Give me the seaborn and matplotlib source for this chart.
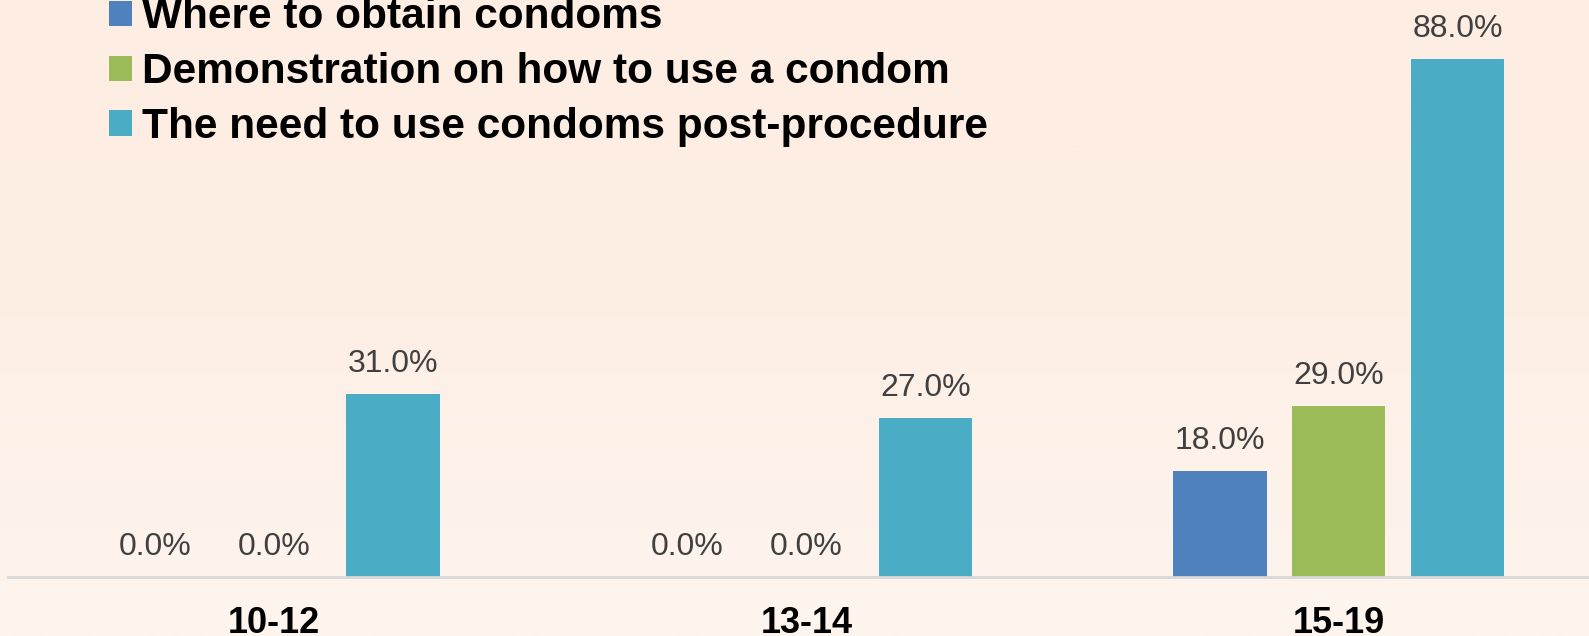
import numpy as np
import pandas as pd
import matplotlib.pyplot as plt
from matplotlib.colors import LinearSegmentedColormap
import seaborn as sns

# Data
age_groups = ["10-12", "13-14", "15-19"]
topics = ["Where to obtain condoms",
          "Demonstration on how to use a condom",
          "The need to use condoms post-procedure"]
where_to_obtain = [0.0, 0.0, 18.0]
demonstration = [0.0, 0.0, 29.0]
need_post_procedure = [31.0, 27.0, 88.0]
colors = ["#4F81BD", "#9BBB59", "#4BACC6"]

df = pd.DataFrame({
    "age": age_groups * 3,
    "topic": [topics[0]] * 3 + [topics[1]] * 3 + [topics[2]] * 3,
    "pct": where_to_obtain + demonstration + need_post_procedure,
})

sns.set_theme(style="white")
plt.rcParams["font.family"] = ["Liberation Sans", "DejaVu Sans"]

bg = "#FDEEE3"
fig = plt.figure(figsize=(15.89, 6.36), dpi=100, facecolor=bg)

# soft vertical gradient behind everything
bg_ax = fig.add_axes([0, 0, 1, 1], zorder=-10)
grad = LinearSegmentedColormap.from_list("bg", ["#FEF5EF", "#FDEFE5", "#FDEDE2"])
bg_ax.imshow(np.linspace(0, 1, 256).reshape(-1, 1), aspect="auto", cmap=grad,
             origin="lower", extent=[0, 1, 0, 1])
bg_ax.axis("off")

ax = fig.add_axes([8 / 1589, 59 / 636, 1 - 8 / 1589, 1 - 59 / 636])
ax.patch.set_alpha(0)

sns.barplot(data=df, x="age", y="pct", hue="topic", palette=colors,
            width=0.67, gap=0.215, saturation=1, linewidth=0, ax=ax, legend=True)

for c in ax.containers:
    ax.bar_label(c, fmt="%.1f%%", padding=11, fontsize=23, color="#404040")

ax.set_xlim(-0.5, 2.47)
ax.set_ylim(0, 98)
ax.set_xlabel("")
ax.set_ylabel("")
ax.set_yticks([])
ax.tick_params(axis="x", length=0, pad=21, labelsize=26)
for lbl in ax.get_xticklabels():
    lbl.set_fontweight("bold")
    lbl.set_color("black")
for s in ["top", "right", "left"]:
    ax.spines[s].set_visible(False)
ax.spines["bottom"].set_color("#D9D9D9")
ax.spines["bottom"].set_linewidth(2)

handles, labels = ax.get_legend_handles_labels()
ax.legend_.remove()
fig.legend(handles, labels, loc="upper left", bbox_to_anchor=(109 / 1589, 1.004),
           frameon=False, borderpad=0, borderaxespad=0, labelspacing=0.35,
           handlelength=0.55, handleheight=0.55, handletextpad=0.22,
           prop={"size": 30.5, "weight": "bold"}, labelcolor="black")

plt.savefig("out.png", facecolor=bg)
